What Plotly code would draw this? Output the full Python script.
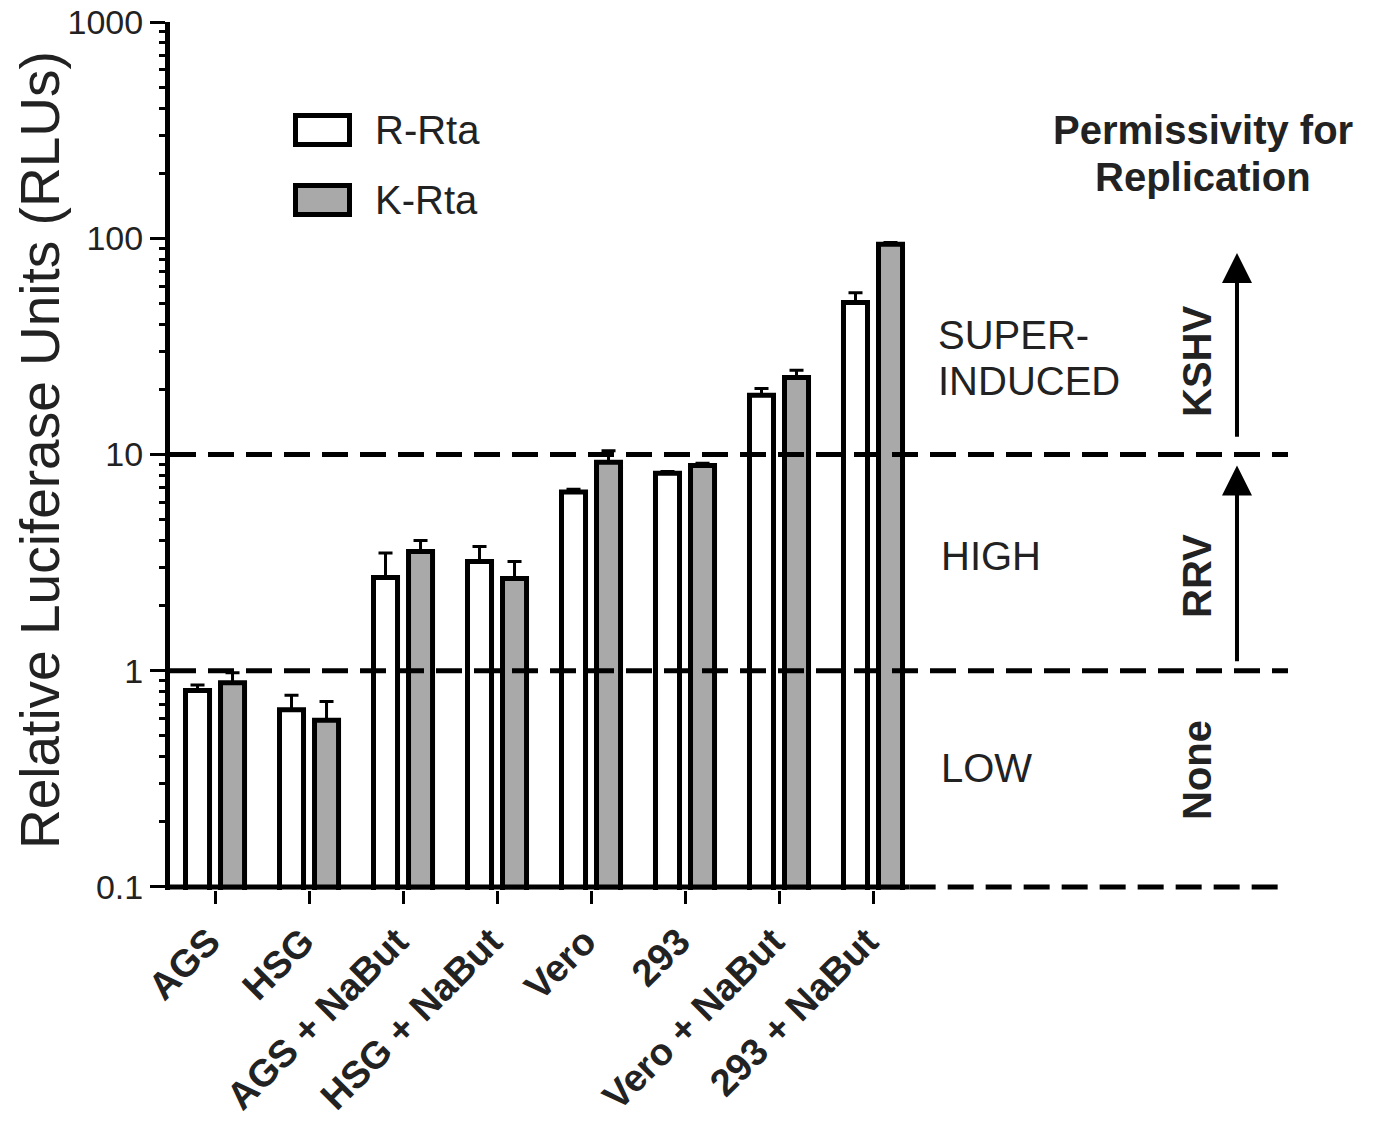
import math
import plotly.graph_objects as go

# ---------------- data ----------------
categories = ["AGS", "HSG", "AGS + NaBut", "HSG + NaBut", "Vero", "293", "Vero + NaBut", "293 + NaBut"]
r_rta = [0.81, 0.66, 2.7, 3.2, 6.7, 8.2, 18.8, 50.5]
r_rta_upper = [0.86, 0.77, 3.5, 3.75, 6.9, 8.35, 20.2, 56.0]
k_rta = [0.88, 0.59, 3.56, 2.67, 9.2, 8.9, 22.7, 93.8]
k_rta_upper = [0.98, 0.72, 4.0, 3.2, 10.4, 9.1, 24.5, 95.5]
thresholds = [1, 10]
floor_value = 0.1
y_tickvals = [0.1, 1, 10, 100, 1000]
y_ticktext = ["0.1", "1", "10", "100", "1000"]

# ---------------- layout geometry ----------------
# page body has an 8px default margin; work in window pixels and subtract it
OFF = 8
WIN_W, WIN_H = 1374, 1127
W, H = WIN_W - 2 * OFF, WIN_H - 2 * OFF
PLOT_L, PLOT_R, PLOT_T, PLOT_B = 170, 1288, 22, 890      # window pixels
ML, MR = PLOT_L - OFF, W - (PLOT_R - OFF)
MT, MB = PLOT_T - OFF, H - (PLOT_B - OFF)
PW, PH = PLOT_R - PLOT_L, PLOT_B - PLOT_T
X_MIN, X_MAX = -0.479, 11.415
BASE_END = 7.39
Y_RANGE = [-1.0139, 3]

FONT = "Liberation Sans, Arial, sans-serif"
TXT = "#222222"
GRAY = "#a9a9a9"


def px_x(px):
    return (px - PLOT_L) / PW


def px_y(py):
    return (PLOT_B - py) / PH


xs = list(range(len(categories)))

fig = go.Figure()

fig.add_trace(go.Bar(
    x=xs, y=r_rta, name="R-Rta",
    marker=dict(color="white", line=dict(color="black", width=5)),
    error_y=dict(type="data", symmetric=False,
                 array=[u - v for u, v in zip(r_rta_upper, r_rta)],
                 arrayminus=[0] * len(r_rta),
                 color="black", thickness=3, width=7),
))
fig.add_trace(go.Bar(
    x=xs, y=k_rta, name="K-Rta",
    marker=dict(color=GRAY, line=dict(color="black", width=5)),
    error_y=dict(type="data", symmetric=False,
                 array=[u - v for u, v in zip(k_rta_upper, k_rta)],
                 arrayminus=[0] * len(k_rta),
                 color="black", thickness=3, width=7),
))

# dashed threshold lines
for t in thresholds:
    fig.add_trace(go.Scatter(
        x=[X_MIN, X_MAX], y=[t, t], mode="lines",
        line=dict(color="black", width=5, dash="26px,12px"),
        hoverinfo="skip", showlegend=False,
    ))
fig.add_trace(go.Scatter(
    x=[BASE_END, X_MAX], y=[floor_value, floor_value], mode="lines",
    line=dict(color="black", width=5, dash="26px,12px"),
    hoverinfo="skip", showlegend=False,
))
# x-axis baseline (solid) under the bars
fig.add_trace(go.Scatter(
    x=[X_MIN, BASE_END], y=[floor_value, floor_value], mode="lines",
    line=dict(color="black", width=5),
    hoverinfo="skip", showlegend=False,
))

minor_vals = [m * 10 ** d for d in range(-1, 3) for m in range(2, 10)]

fig.update_layout(
    width=W, height=H,
    margin=dict(l=ML, r=MR, t=MT, b=MB, autoexpand=False),
    paper_bgcolor="white", plot_bgcolor="white",
    barmode="group", bargap=0.255, bargroupgap=0.314,
    showlegend=False,
    font=dict(family=FONT, color=TXT),
    xaxis=dict(
        range=[X_MIN, X_MAX], tickvals=xs, ticktext=categories,
        automargin=False, ticklabeloverflow="allow",
        tickangle=-45, showline=False, showgrid=False, zeroline=False,
        ticks="outside", ticklen=13, tickwidth=3, tickcolor="black",
        ticklabelshift=-6,
        tickfont=dict(family=FONT, size=38, color=TXT, weight="bold"),
    ),
    yaxis=dict(
        type="log", range=Y_RANGE, tickvals=y_tickvals, ticktext=y_ticktext,
        automargin=False, ticklabeloverflow="allow",
        showline=True, linewidth=5, linecolor="black",
        showgrid=False, zeroline=False,
        ticks="outside", ticklen=15, tickwidth=3, tickcolor="black",
        tickfont=dict(family=FONT, size=34, color=TXT),
        minor=dict(tickvals=minor_vals, ticks="outside", ticklen=6,
                   tickwidth=3, tickcolor="black", showgrid=False),
    ),
)

shapes = []
# legend swatches
shapes.append(dict(type="rect", xref="paper", yref="paper",
                   x0=px_x(295.5), x1=px_x(349.5), y0=px_y(144.5), y1=px_y(115.5),
                   line=dict(color="black", width=5), fillcolor="white"))
shapes.append(dict(type="rect", xref="paper", yref="paper",
                   x0=px_x(295.5), x1=px_x(349.5), y0=px_y(214.5), y1=px_y(185.5),
                   line=dict(color="black", width=5), fillcolor=GRAY))
fig.update_layout(shapes=shapes)

ann = []


def text(s, x, y, size, bold=False, xanchor="center", angle=0):
    ann.append(dict(text=s, xref="paper", yref="paper", x=px_x(x), y=px_y(y),
                    xanchor=xanchor, yanchor="middle", showarrow=False,
                    textangle=angle,
                    font=dict(family=FONT, size=size, color=TXT,
                              weight="bold" if bold else "normal")))


text("R-Rta", 373, 130, 40, xanchor="left")
text("K-Rta", 373, 200, 40, xanchor="left")
text("Relative Luciferase Units (RLUs)", 40, 450, 55, angle=-90)
text("Permissivity for", 1203, 130, 40, bold=True)
text("Replication", 1203, 177, 40, bold=True)
text("SUPER-", 936, 335, 40, xanchor="left")
text("INDUCED", 936, 381, 40, xanchor="left")
text("HIGH", 939, 556, 40, xanchor="left")
text("LOW", 939, 768, 40, xanchor="left")
text("KSHV", 1197, 362, 40, bold=True, angle=-90)
text("RRV", 1197, 576, 40, bold=True, angle=-90)
text("None", 1197, 770, 40, bold=True, angle=-90)

# arrows (tip / tail in log10 units of the y axis)
arrow_x = (1237 - 215) / 94.0
for tip, tail in [(85.5, 11.9), (8.9, 1.09)]:
    ann.append(dict(x=arrow_x, y=math.log10(tip), ax=arrow_x, ay=math.log10(tail),
                    xref="x", yref="y", axref="x", ayref="y",
                    showarrow=True, arrowhead=2, arrowsize=1.5, arrowwidth=4,
                    arrowcolor="black", text=""))

fig.update_layout(annotations=ann)

fig.write_html("out.html")
